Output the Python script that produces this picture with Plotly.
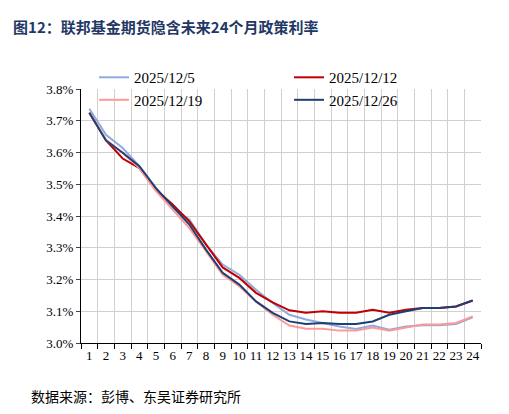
import plotly.graph_objects as go

months = list(range(1, 25))
s_1205 = [3.738, 3.656, 3.614, 3.557, 3.483, 3.425, 3.389, 3.310, 3.247, 3.215, 3.168, 3.126,
          3.089, 3.074, 3.063, 3.052, 3.044, 3.055, 3.042, 3.052, 3.056, 3.056, 3.060, 3.081]
s_1212 = [3.725, 3.638, 3.581, 3.551, 3.483, 3.436, 3.383, 3.310, 3.238, 3.205, 3.158, 3.128,
          3.103, 3.095, 3.100, 3.095, 3.095, 3.105, 3.095, 3.105, 3.110, 3.110, 3.115, 3.134]
s_1219 = [3.725, 3.640, 3.599, 3.551, 3.478, 3.420, 3.362, 3.289, 3.215, 3.179, 3.131, 3.089,
          3.055, 3.045, 3.045, 3.039, 3.039, 3.049, 3.039, 3.049, 3.058, 3.058, 3.063, 3.084]
s_1226 = [3.725, 3.638, 3.599, 3.557, 3.488, 3.430, 3.373, 3.294, 3.221, 3.184, 3.131, 3.095,
          3.068, 3.060, 3.063, 3.060, 3.060, 3.068, 3.089, 3.100, 3.110, 3.110, 3.115, 3.134]

series = [("2025/12/5", s_1205, "#8faadc"), ("2025/12/12", s_1212, "#c00000"),
          ("2025/12/19", s_1219, "#ff9999"), ("2025/12/26", s_1226, "#1f3f73")]

fig = go.Figure()
for name, vals, color in series:
    fig.add_trace(go.Scatter(x=months, y=vals, name=name, mode="lines",
                             line=dict(color=color, width=2)))

serif = "Liberation Serif, Times New Roman, serif"
fig.update_layout(
    width=509, height=414, paper_bgcolor="white", plot_bgcolor="white",
    margin=dict(l=73, r=36, t=81, b=79),
    font=dict(family=serif, size=13, color="black"),
    legend=dict(orientation="h", x=0.52, xanchor="center", y=1.11, yanchor="top",
                font=dict(size=15), entrywidth=150, bgcolor="rgba(0,0,0,0)",
                tracegroupgap=0),
    title=dict(text="<b>图12：联邦基金期货隐含未来24个月政策利率</b>", x=0.01, y=0.965,
               font=dict(family="Noto Sans CJK SC", size=15, color="#1f3864")),
    annotations=[dict(text="数据来源：彭博、东吴证券研究所", xref="paper", yref="paper",
                      x=-0.13, y=-0.16, xanchor="left", yanchor="top", showarrow=False,
                      font=dict(family="Noto Sans CJK SC", size=14))],
    xaxis2=dict(overlaying="x", range=[0.5, 24.5], tickvals=[m + 0.5 for m in range(0, 25)],
                showticklabels=False, showgrid=True, gridcolor="#d0d0d0", ticks="outside",
                ticklen=5, tickcolor="black", side="bottom", zeroline=False),
)
fig.add_trace(go.Scatter(x=[0.5, 24.5], y=[3.0, 3.0], xaxis="x2", mode="lines",
                         line=dict(width=0), showlegend=False, hoverinfo="skip"))
fig.update_xaxes(selector=dict(anchor="y"), range=[0.5, 24.5], tickvals=months,
                 ticktext=[str(m) for m in months], showgrid=False, showline=True,
                 linecolor="black", ticks="", tickfont=dict(size=13))
fig.update_layout(xaxis=dict(range=[0.5, 24.5], tickvals=months,
                             ticktext=[str(m) for m in months], showgrid=False,
                             showline=True, linecolor="black", ticks="",
                             tickfont=dict(size=13)))
fig.update_yaxes(range=[3.0, 3.8], showgrid=True, gridcolor="#d0d0d0", showline=True,
                 linecolor="black", ticks="outside", ticklen=4, tickfont=dict(size=13),
                 zeroline=False, tickvals=[3.0 + i / 10 for i in range(9)],
                 ticktext=[f"{3.0 + i / 10:.1f}%" for i in range(9)])

fig.write_html("out.html")
